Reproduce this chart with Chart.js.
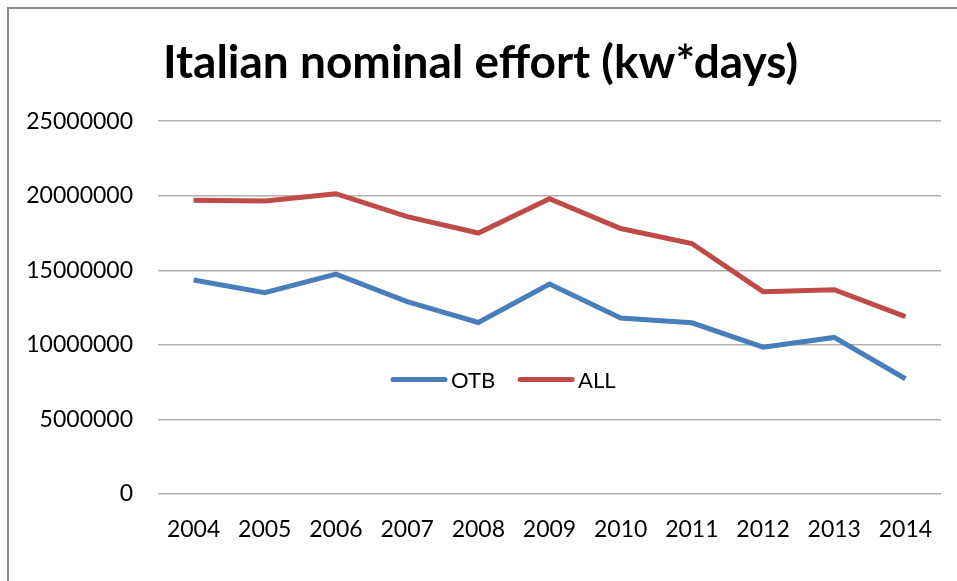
<!DOCTYPE html>
<html lang="en-US">
<head>
  <meta charset="UTF-8">
  <title>Italian nominal effort</title>
  <script src="https://cdn.jsdelivr.net/npm/chart.js@4.4.1/dist/chart.umd.min.js"></script>
  <style>
    html, body { margin: 0; padding: 0; background: #fff; }
    #wrap { position: absolute; left: 0; top: 0; width: 957px; height: 581px; }
  </style>
</head>
<body>

  <div id="wrap"><canvas id="myChart" width="957" height="581"></canvas></div>

  <script>

  // values
  var years = ["2004", "2005", "2006", "2007", "2008", "2009", "2010", "2011", "2012", "2013", "2014"];
  var otb = [14350000, 13500000, 14750000, 12900000, 11500000, 14080000, 11800000, 11480000, 9850000, 10500000, 7730000];
  var all = [19700000, 19650000, 20140000, 18600000, 17500000, 19800000, 17800000, 16800000, 13570000, 13700000, 11900000];
  var yTicks = [0, 5000000, 10000000, 15000000, 20000000, 25000000];

  var blue = "#4a7ebb";
  var red = "#be4b48";

  // grey frame on the top and left edge, like the cropped excel chart box
  var frame = {
    id: "frame",
    beforeDraw: function(chart) {
      var c = chart.ctx;
      c.save();
      c.fillStyle = "#fff";
      c.fillRect(0, 0, chart.width, chart.height);
      c.strokeStyle = "#8a8a8a";
      c.lineWidth = 2;
      c.beginPath();
      c.moveTo(8, chart.height);
      c.lineTo(8, 8);
      c.lineTo(chart.width, 8);
      c.stroke();
      c.restore();
    }
  };

  // legend sits inside the plot, between the 5M and 10M lines
  var innerLegend = {
    id: "innerLegend",
    afterDatasetsDraw: function(chart) {
      var c = chart.ctx;
      var area = chart.chartArea;
      var y = chart.scales.y.getPixelForValue(7670000);
      var x = area.left + 235;
      c.save();
      c.font = "22px Lato";
      c.textBaseline = "middle";
      chart.data.datasets.forEach(function(ds) {
        c.strokeStyle = ds.borderColor;
        c.lineWidth = 5;
        c.lineCap = "round";
        c.beginPath();
        c.moveTo(x, y);
        c.lineTo(x + 52, y);
        c.stroke();
        c.fillStyle = "#000";
        c.fillText(ds.label, x + 58, y + 1);
        x += 58 + c.measureText(ds.label).width + 25;
      });
      c.restore();
    }
  };

  function draw() {
    var ctx = document.getElementById("myChart");
    var myChart = new Chart(ctx, {
      type: "line",
      data: {
        labels: years,
        datasets: [{
          label: "OTB",
          data: otb,
          borderColor: blue,
          backgroundColor: blue,
          borderWidth: 5,
          pointRadius: 0,
          tension: 0
        }, {
          label: "ALL",
          data: all,
          borderColor: red,
          backgroundColor: red,
          borderWidth: 5,
          pointRadius: 0,
          tension: 0
        }]
      },
      plugins: [frame, innerLegend],
      options: {
        responsive: false,
        animation: false,
        layout: { padding: { left: 20, right: 16, top: 0, bottom: 0 } },
        plugins: {
          legend: { display: false },
          tooltip: { enabled: false },
          title: {
            display: true,
            text: "Italian nominal effort (kw*days)",
            color: "#000",
            font: { family: "Lato", size: 46, weight: "bold" },
            padding: { top: 36, bottom: 30 }
          }
        },
        scales: {
          x: {
            offset: true,
            grid: { display: false },
            border: { display: false },
            afterFit: function(axis) { axis.height = 87; },
            ticks: {
              color: "#000",
              font: { family: "Lato", size: 23 },
              padding: 14,
              maxRotation: 0
            }
          },
          y: {
            min: 0,
            max: 25000000,
            afterBuildTicks: function(axis) {
              axis.ticks = yTicks.map(function(v) { return { value: v }; });
            },
            afterFit: function(axis) { axis.width = 138; },
            border: { display: false },
            grid: { color: "#b0b0b0", lineWidth: 1.5, drawTicks: false },
            ticks: {
              color: "#000",
              font: { family: "Lato", size: 23 },
              padding: 25,
              callback: function(v) { return String(v); }
            }
          }
        }
      }
    });
  }

  Promise.all([
    document.fonts.load("23px Lato"),
    document.fonts.load("bold 46px Lato")
  ]).then(draw, draw);

  </script>

</body>
</html>
